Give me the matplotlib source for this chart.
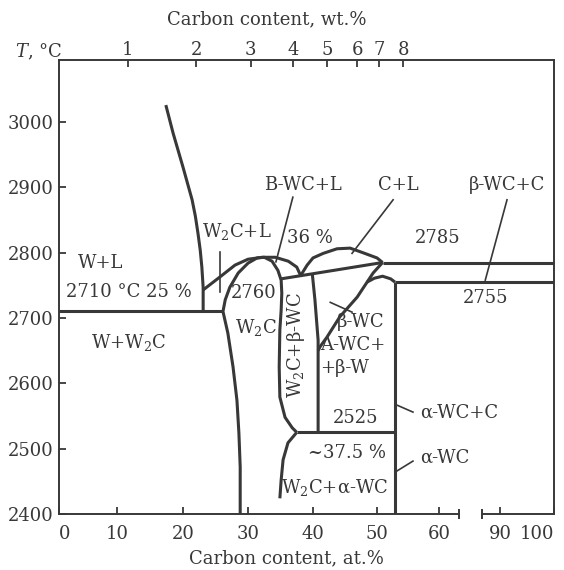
import numpy as np
import matplotlib
matplotlib.use("Agg")
import matplotlib.pyplot as plt
from matplotlib.ticker import NullLocator

plt.rcParams['font.family'] = ['DejaVu Serif']
plt.rcParams['mathtext.fontset'] = 'dejavuserif'
plt.rcParams['font.size'] = 13

INK = '#383838'

# ---- Phase boundaries: carbon content (at.%) and temperature (°C) ----
w_liq_c = [17.4, 18.5, 20.0, 21.4, 21.9, 22.3, 22.65, 22.9, 23.1, 23.1]
w_liq_t = [3026, 2983, 2931, 2881, 2856, 2830, 2804, 2778, 2747, 2710]

w2c_liq_c = [23.1, 25.7, 28.0, 30.0, 32.2, 34.2, 36.2, 37.5, 38.1]
w2c_liq_t = [2743, 2763, 2781, 2790, 2793, 2793, 2787, 2778, 2765]

# W2C single-phase field outline (left side, dome, right side down to 2525 °C)
w2c_field_c = [28.8, 28.8, 28.6, 28.3, 27.7, 26.9, 26.15, 26.5, 27.2, 28.5, 30.0,
               31.4, 32.5, 33.7, 34.6, 35.1, 35.2, 35.1, 34.9, 34.8, 34.9, 35.7,
               36.8, 37.5]
w2c_field_t = [2400, 2472, 2524, 2574, 2625, 2677, 2710, 2728, 2747, 2769, 2784,
               2792, 2793, 2787, 2773, 2758, 2738, 2712, 2682, 2625, 2579, 2548,
               2532, 2525]

eut_2760_c = [35.1, 50.9]
eut_2760_t = [2760, 2785]

c_liq_c = [38.1, 39.1, 40.0, 41.6, 43.75, 45.8, 47.8, 50.0, 50.9]
c_liq_t = [2765, 2781, 2792, 2799, 2806, 2807, 2800, 2792, 2785]

bwc_left_c = [39.9, 40.3, 40.8, 40.8]
bwc_left_t = [2767, 2728, 2666, 2525]

bwc_right_c = [50.9, 49.4, 46.9, 44.2, 42.2, 41.1, 40.8]
bwc_right_t = [2785, 2769, 2732, 2702, 2671, 2656, 2650]

wc_top_c = [48.45, 49.6, 50.9, 52.2, 52.9]
wc_top_t = [2755, 2761, 2764, 2760, 2755]

wc_line_c = [52.9, 52.9]
wc_line_t = [2755, 2400]

lower_w2c_c = [37.5, 36.15, 35.4, 35.1, 34.9]
lower_w2c_t = [2525, 2509, 2483, 2452, 2424]

# invariant horizontals: (start at.%, end at.%, temperature)
iso_2710 = (0.0, 26.15, 2710)
iso_2785 = (50.9, 100.0, 2785)
iso_2755 = (52.9, 100.0, 2755)
iso_2525 = (37.5, 52.9, 2525)

# label leader lines: ((c0, t0), (c1, t1))
leaders = [
    ((25.7, 2801), (25.7, 2740)),   # W2C+L
    ((36.9, 2885), (34.3, 2786)),   # B-WC+L
    ((52.6, 2881), (46.1, 2799)),   # C+L
    ((91.3, 2881), (87.3, 2758)),   # β-WC+C
    ((42.7, 2724), (46.1, 2709)),   # β-WC
    ((52.9, 2568), (55.8, 2556)),   # α-WC+C
    ((52.9, 2464), (55.8, 2481)),   # α-WC
]

# ---- Axis ticks ----
at_ticks = [0, 10, 20, 30, 40, 50, 60, 90, 100]
at_labels = ['0', '10', '20', '30', '40', '50', '60', '90', '100']
wt_tick_pos = [11.65, 22.0, 30.4, 36.9, 42.2, 46.9, 50.4, 54.2]
wt_labels = ['1', '2', '3', '4', '5', '6', '7', '8']
t_ticks = [2400, 2500, 2600, 2700, 2800, 2900, 3000]

# Piecewise composition scale; the 63-87 at.% span is collapsed into an axis break
scale_at = [0, 10, 20, 30, 40, 50, 60, 63.2, 86.7, 90, 100]
scale_u = [0, 58, 124, 189, 254, 318, 380, 400, 423, 441, 495]
BREAK_LO, BREAK_HI = 63.2, 86.7


def fwd(x):
    return np.interp(np.asarray(x, dtype=float), scale_at, scale_u)


def inv(u):
    return np.interp(np.asarray(u, dtype=float), scale_u, scale_at)


fig = plt.figure(figsize=(5.64, 5.70), dpi=100)
ax = fig.add_axes([59 / 564, 56 / 570, 495 / 564, 454 / 570])
ax.set_xscale('function', functions=(fwd, inv))
ax.set_xlim(0, 100)
ax.set_ylim(2400, 3095)

LW = 2.2
curve = dict(color=INK, lw=LW, solid_capstyle='butt', solid_joinstyle='round')
for c, t in [(w_liq_c, w_liq_t), (w2c_liq_c, w2c_liq_t), (w2c_field_c, w2c_field_t),
             (eut_2760_c, eut_2760_t), (c_liq_c, c_liq_t), (bwc_left_c, bwc_left_t),
             (bwc_right_c, bwc_right_t), (wc_top_c, wc_top_t), (wc_line_c, wc_line_t),
             (lower_w2c_c, lower_w2c_t)]:
    ax.plot(c, t, **curve)

for c0, c1, t in [iso_2710, iso_2785, iso_2755, iso_2525]:
    ax.plot([c0, c1], [t, t], **curve)

for (c0, t0), (c1, t1) in leaders:
    ax.plot([c0, c1], [t0, t1], color=INK, lw=1.2)

# ---- Text labels ----
def lab(x, y, s, **kw):
    kw.setdefault('ha', 'center')
    kw.setdefault('va', 'center')
    ax.text(x, y, s, color=INK, **kw)

lab(7.2, 2784, 'W+L')
lab(11.8, 2740, '2710 °C 25 %')
lab(11.8, 2662, r'W+W$_2$C')
lab(28.3, 2832, r'W$_2$C+L')
lab(38.5, 2904, 'B-WC+L')
lab(39.6, 2822, '36 %')
lab(53.4, 2904, 'C+L')
lab(91.3, 2904, 'β-WC+C')
lab(59.8, 2822, '2785')
lab(87.3, 2731, '2755')
lab(30.9, 2738, '2760')
lab(31.2, 2686, r'W$_2$C')
lab(37.4, 2659, r'W$_2$C+β-WC', rotation=90)
lab(47.5, 2694, 'β-WC')
lab(41.1, 2659, 'A-WC+', ha='left')
lab(41.1, 2623, '+β-W', ha='left')
lab(46.7, 2547, '2525')
lab(45.3, 2493, '~37.5 %')
lab(43.4, 2440, r'W$_2$C+α-WC')
lab(56.9, 2555, 'α-WC+C', ha='left')
lab(56.9, 2486, 'α-WC', ha='left')

# ---- Axes styling ----
for side in ['left', 'right', 'top']:
    ax.spines[side].set_color(INK)
    ax.spines[side].set_linewidth(1.4)
ax.spines['bottom'].set_visible(False)

xa = ax.get_xaxis_transform()
ax.plot([0, BREAK_LO], [0, 0], transform=xa, color=INK, lw=1.4, clip_on=False)
ax.plot([BREAK_HI, 100], [0, 0], transform=xa, color=INK, lw=1.4, clip_on=False)
ax.plot([BREAK_LO, BREAK_HI], [0, 0], transform=xa, ls='none', marker='|',
        ms=7, mew=1.4, color=INK, clip_on=False)

ax.set_xticks(at_ticks)
ax.set_xticklabels(at_labels)
ax.xaxis.set_minor_locator(NullLocator())
ax.set_yticks(t_ticks)
ax.set_yticklabels([str(t) for t in t_ticks])
ax.tick_params(axis='x', direction='in', length=5, width=1.3, color=INK,
               labelcolor=INK, pad=8, labelsize=13)
ax.tick_params(axis='y', direction='in', length=5, width=1.3, color=INK,
               labelcolor=INK, pad=4, labelsize=13)
xt_labels = ax.get_xticklabels()
xt_labels[0].set_horizontalalignment('left')
xt_labels[-1].set_horizontalalignment('right')

top = ax.twiny()
top.set_xscale('function', functions=(fwd, inv))
top.set_xlim(0, 100)
top.set_xticks(wt_tick_pos)
top.set_xticklabels(wt_labels)
top.xaxis.set_minor_locator(NullLocator())
for s in top.spines.values():
    s.set_visible(False)
top.tick_params(axis='x', direction='in', length=5, width=1.3, color=INK,
                labelcolor=INK, pad=1, labelsize=13)

fig.text(267 / 564, 1 - 19 / 570, 'Carbon content, wt.%', ha='center', va='center',
         color=INK, fontsize=13)
fig.text(286 / 564, 1 - 558 / 570, 'Carbon content, at.%', ha='center', va='center',
         color=INK, fontsize=13)
fig.text(39 / 564, 1 - 52 / 570, '$T$, °C', ha='center', va='center',
         color=INK, fontsize=13)

fig.savefig('out.png', dpi=100, facecolor='white')
